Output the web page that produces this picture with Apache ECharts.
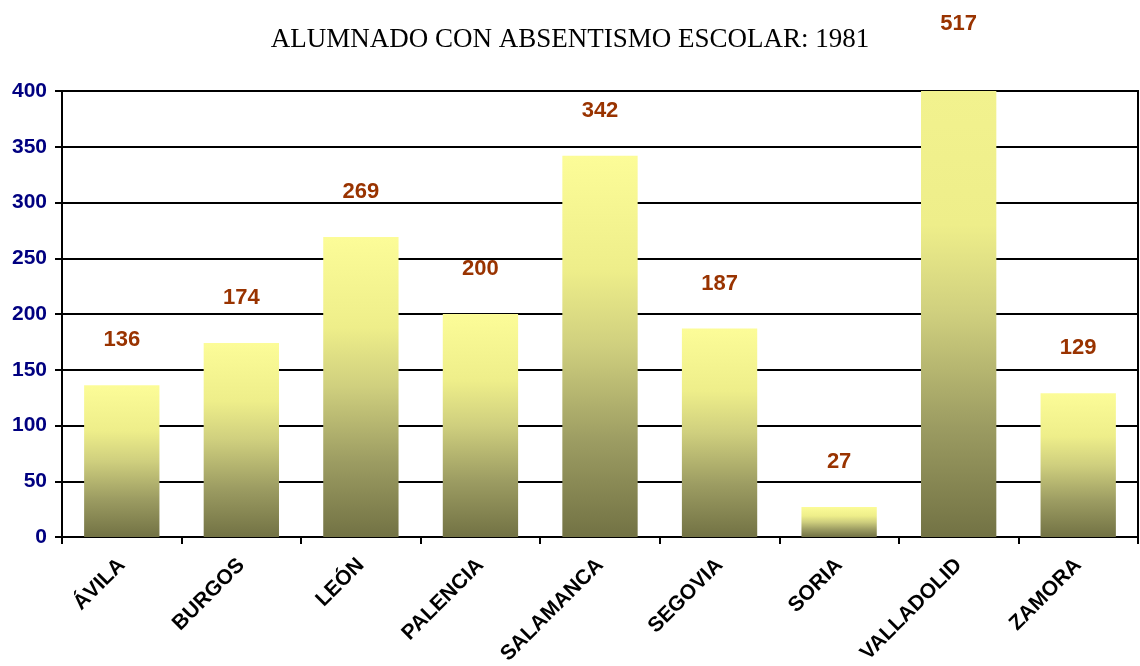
<!DOCTYPE html>
<html>
<head>
<meta charset="utf-8">
<script src="https://cdn.jsdelivr.net/npm/echarts@6/dist/echarts.min.js"></script>
<style>
  html, body { margin: 0; padding: 0; background: #fff; }
  #chart { width: 1140px; height: 666px; }
</style>
</head>
<body>
<div id="chart"></div>
<script>
// provincias y alumnado absentista, 1981
const provincias = ['ÁVILA', 'BURGOS', 'LEÓN', 'PALENCIA', 'SALAMANCA', 'SEGOVIA', 'SORIA', 'VALLADOLID', 'ZAMORA'];
const alumnos = [136, 174, 269, 200, 342, 187, 27, 517, 129];
const yTicks = [0, 50, 100, 150, 200, 250, 300, 350, 400];

const yMax = yTicks[yTicks.length - 1];

function barGradient(top) {
  return new echarts.graphic.LinearGradient(0, 0, 0, 1, [
    { offset: 0, color: top },
    { offset: 0.3, color: '#EEEE8A' },
    { offset: 0.5, color: '#CFCF7E' },
    { offset: 0.75, color: '#9C9C62' },
    { offset: 1, color: '#727244' },
  ]);
}

const seriesData = alumnos.map((v) => {
  if (v <= yMax) return v;
  // bar runs off the top of the plot: label sits higher, colour is cut
  return {
    value: v,
    itemStyle: { color: barGradient('#F2F28E') },
    label: { distance: 56 },
  };
});

const myChart = echarts.init(document.getElementById('chart'));
const option = {
  animation: false,
  title: {
    text: 'ALUMNADO CON ABSENTISMO ESCOLAR: 1981',
    left: 'center',
    top: 21,
    textStyle: {
      fontFamily: 'Liberation Serif',
      fontSize: 27,
      fontWeight: 'normal',
      color: '#000',
    },
  },
  grid: {
    left: 62,
    right: 2,
    top: 91,
    bottom: 129,
    outerBoundsMode: 'none',
    show: true,
    borderColor: '#000',
    borderWidth: 2,
  },
  xAxis: {
    type: 'category',
    data: provincias,
    boundaryGap: true,
    axisLine: { lineStyle: { color: '#000', width: 2 } },
    axisTick: { show: true, length: 7, lineStyle: { color: '#000', width: 2 } },
    axisLabel: {
      rotate: 45,
      margin: 25,
      interval: 0,
      color: '#000',
      fontFamily: 'Liberation Sans',
      fontWeight: 'bold',
      fontSize: 21,
    },
  },
  yAxis: {
    type: 'value',
    min: yTicks[0],
    max: yMax,
    interval: yTicks[1] - yTicks[0],
    axisLine: { show: true, lineStyle: { color: '#000', width: 2 } },
    axisTick: { show: true, length: 7, lineStyle: { color: '#000', width: 2 } },
    splitLine: { lineStyle: { color: '#000', width: 2 } },
    axisLabel: {
      margin: 15,
      color: '#000080',
      fontFamily: 'Liberation Sans',
      fontWeight: 'bold',
      fontSize: 21,
    },
  },
  series: [
    {
      name: 'alumnado',
      type: 'bar',
      barWidth: '63%',
      clip: true,
      itemStyle: { color: barGradient('#FCFC98') },
      label: {
        show: true,
        position: 'top',
        distance: 34,
        color: '#993300',
        fontFamily: 'Liberation Sans',
        fontWeight: 'bold',
        fontSize: 22,
      },
      data: seriesData,
    },
  ],
};
myChart.setOption(option);
</script>
</body>
</html>
